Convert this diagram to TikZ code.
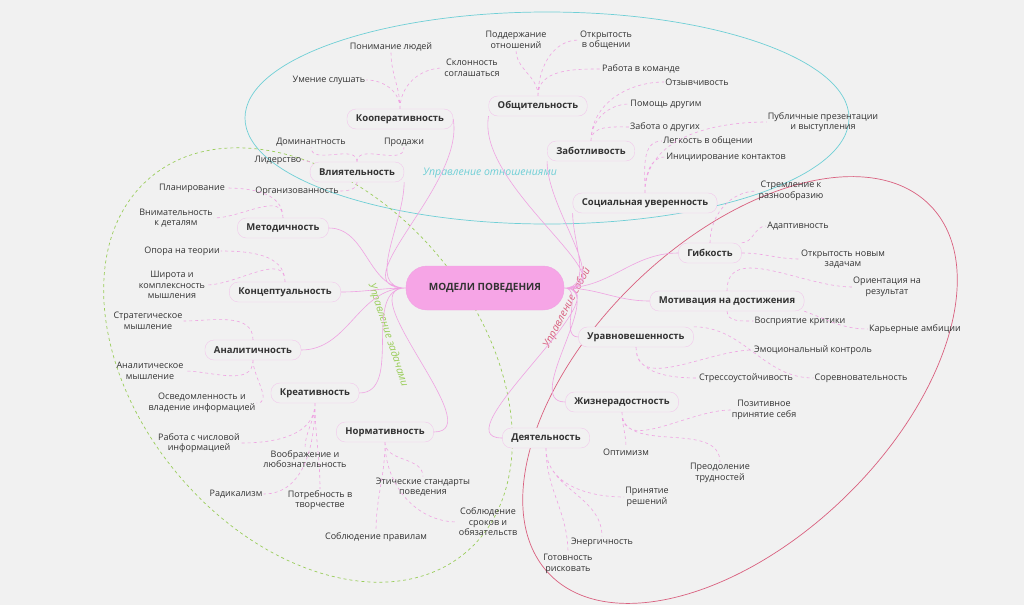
\documentclass[tikz,border=0pt]{standalone}
\usepackage{fontspec}
\setmainfont{Open Sans}
\usetikzlibrary{positioning}
\definecolor{bg}{HTML}{F1F1F1}
\definecolor{pk}{HTML}{EFA3E2}
\definecolor{pkfill}{HTML}{F6A5E6}
\definecolor{catline}{HTML}{F2C8EC}
\definecolor{cy}{HTML}{6FCFD6}
\definecolor{gr}{HTML}{9ACD5A}
\definecolor{rd}{HTML}{D9607F}
\definecolor{txt}{HTML}{333333}

\begin{document}
\begin{tikzpicture}[x=1pt,y=-1pt,
    root/.style={draw=pk,fill=pkfill,rounded corners=21pt,minimum width=158pt,minimum height=44pt,font=\fontsize{10}{12}\selectfont\bfseries,text=txt},
    cat/.style={draw=catline,fill=bg,rounded corners=9pt,minimum height=20pt,inner xsep=9pt,font=\fontsize{9.5}{11}\selectfont\bfseries,text=txt},
    leaf/.style={align=center,inner sep=1pt,font=\fontsize{9}{10.5}\selectfont,text=txt},
    sub/.style={draw=pk,line width=0.6pt},
    lf/.style={draw=pk,dashed,line width=0.6pt},
    grp/.style={font=\fontsize{10.5}{12}\selectfont\itshape}]
  \fill[bg] (0,0) rectangle (1024,605);
  \useasboundingbox (0,0) rectangle (1024,605);

  % groups
  \draw[cy,line width=0.7pt] (547,118) ellipse [x radius=302,y radius=106];
  \draw[gr,dashed,line width=0.7pt] (308,365) ellipse [x radius=245,y radius=170,rotate=-50];
  \draw[rd,line width=0.7pt] (740,390) ellipse [x radius=265,y radius=150,rotate=44];
  \node[grp,text=cy] (g1) at (490,173) {Управление отношениями};
  \node[grp,text=gr,rotate=-72] (g2) at (388,335) {Управление задачами};
  \node[grp,text=rd,rotate=62] (g3) at (567,308) {Управление собой};

  % root and categories
  \node[root] (root) at (485,288) {МОДЕЛИ ПОВЕДЕНИЯ};
  \node[cat] (coop) at (400,119) {Кооперативность};
  \node[cat] (infl) at (357,172) {Влиятельность};
  \node[cat] (meth) at (283,228) {Методичность};
  \node[cat] (conc) at (285,292) {Концептуальность};
  \node[cat] (anal) at (253,350) {Аналитичность};
  \node[cat] (crea) at (315,393) {Креативность};
  \node[cat] (norm) at (385,432) {Нормативность};
  \node[cat] (comm) at (538,106) {Общительность};
  \node[cat] (care) at (591,151) {Заботливость};
  \node[cat] (soc) at (645,203) {Социальная уверенность};
  \node[cat] (flex) at (710,253) {Гибкость};
  \node[cat] (moti) at (727,301) {Мотивация на достижения};
  \node[cat] (bal) at (636,337) {Уравновешенность};
  \node[cat] (joy) at (622,402) {Жизнерадостность};
  \node[cat] (act) at (546,438) {Деятельность};

  % leaves
  \node[leaf] (l1) at (391,47) {Понимание людей};
  \node[leaf] (l2) at (472,68) {Склонность\\соглашаться};
  \node[leaf] (l3) at (329,80) {Умение слушать};
  \node[leaf] (l4) at (311,142) {Доминантность};
  \node[leaf] (l5) at (404,142) {Продажи};
  \node[leaf] (l6) at (278,160) {Лидерство};
  \node[leaf] (l7) at (297,191) {Организованность};
  \node[leaf] (l8) at (192,188) {Планирование};
  \node[leaf] (l9) at (176,218) {Внимательность\\к деталям};
  \node[leaf] (l10) at (182,251) {Опора на теории};
  \node[leaf] (l11) at (172,285) {Широта и\\комплексность\\мышления};
  \node[leaf] (l12) at (148,321) {Стратегическое\\мышление};
  \node[leaf] (l13) at (150,371) {Аналитическое\\мышление};
  \node[leaf] (l14) at (202,403) {Осведомленность и\\владение информацией};
  \node[leaf] (l15) at (199,443) {Работа с числовой\\информацией};
  \node[leaf] (l16) at (305,459) {Воображение и\\любознательность};
  \node[leaf] (l17) at (236,494) {Радикализм};
  \node[leaf] (l18) at (320,500) {Потребность в\\творчестве};
  \node[leaf] (l19) at (376,537) {Соблюдение правилам};
  \node[leaf] (l20) at (423,487) {Этические стандарты\\поведения};
  \node[leaf] (l21) at (488,522) {Соблюдение\\сроков и\\обязательств};
  \node[leaf] (l22) at (516,40) {Поддержание\\отношений};
  \node[leaf] (l23) at (606,40) {Открытость\\в общении};
  \node[leaf] (l24) at (641,69) {Работа в команде};
  \node[leaf] (l25) at (697,82) {Отзывчивость};
  \node[leaf] (l26) at (666,104) {Помощь другим};
  \node[leaf] (l27) at (665,127) {Забота о других};
  \node[leaf] (l28) at (823,122) {Публичные презентации\\и выступления};
  \node[leaf] (l29) at (708,141) {Легкость в общении};
  \node[leaf] (l30) at (726,157) {Инициирование контактов};
  \node[leaf] (l31) at (791,191) {Стремление к\\разнообразию};
  \node[leaf] (l32) at (798,226) {Адаптивность};
  \node[leaf] (l33) at (843,259) {Открытость новым\\задачам};
  \node[leaf] (l34) at (887,287) {Ориентация на\\результат};
  \node[leaf] (l35) at (800,321) {Восприятие критики};
  \node[leaf] (l36) at (915,329) {Карьерные амбиции};
  \node[leaf] (l37) at (813,350) {Эмоциональный контроль};
  \node[leaf] (l38) at (746,378) {Стрессоустойчивость};
  \node[leaf] (l39) at (861,378) {Соревновательность};
  \node[leaf] (l40) at (764,410) {Позитивное\\принятие себя};
  \node[leaf] (l41) at (626,452) {Оптимизм};
  \node[leaf] (l42) at (720,473) {Преодоление\\трудностей};
  \node[leaf] (l43) at (647,497) {Принятие\\решений};
  \node[leaf] (l44) at (602,542) {Энергичность};
  \node[leaf] (l45) at (568,564) {Готовность\\рисковать};

  % root to categories
  \path[sub]
    (root.west) to[out=180,in=-80] (coop.east)
    (root.west) to[out=180,in=-90] (infl.south east)
    (root.west) to[out=180,in=0] (meth.east)
    (root.west) to[out=180,in=0] (conc.east)
    (root.west) to[out=180,in=0] (anal.east)
    (root.west) to[out=180,in=0] (crea.east)
    (root.west) to[out=180,in=0] (norm.east)
    (root.east) to[out=0,in=-100] (comm.south west)
    (root.east) to[out=0,in=-90] (care.south west)
    (root.east) to[out=0,in=-90] (soc.south west)
    (root.east) to[out=0,in=180] (flex.west)
    (root.east) to[out=0,in=180] (moti.west)
    (root.east) to[out=0,in=180] (bal.west)
    (root.east) to[out=0,in=180] (joy.west)
    (root.east) to[out=0,in=180] (act.west);

  % categories to leaves
  \path[lf]
    (coop.north) to[out=90,in=-90] (l1.south)
    (coop.north) to[out=90,in=180] (l2.west)
    (coop.north) to[out=90,in=0] (l3.east)
    (infl.north) to[out=90,in=-90] (l4.south)
    (infl.north) to[out=90,in=-90] (l5.south)
    (infl.north west) to[out=180,in=0] (l6.east)
    (infl.south) to[out=-90,in=0] (l7.east)
    (meth.north) to[out=90,in=0] (l8.east)
    (meth.north) to[out=90,in=0] (l9.east)
    (conc.north) to[out=90,in=0] (l10.east)
    (conc.north) to[out=90,in=0] (l11.east)
    (anal.north) to[out=90,in=0] (l12.east)
    (anal.south) to[out=-90,in=0] (l13.east)
    (anal.south) to[out=-90,in=0] (l14.east)
    (crea.south) to[out=-90,in=0] (l15.east)
    (crea.south) to[out=-90,in=90] (l16.north)
    (crea.south) to[out=-90,in=0] (l17.east)
    (crea.south) to[out=-90,in=90] (l18.north)
    (norm.south) to[out=-90,in=90] (l19.north)
    (norm.south) to[out=-90,in=90] (l20.north)
    (norm.south) to[out=-90,in=180] (l21.west)
    (comm.north) to[out=90,in=-90] (l22.south)
    (comm.north) to[out=90,in=180] (l23.west)
    (comm.north) to[out=90,in=180] (l24.west)
    (care.north) to[out=90,in=180] (l25.west)
    (care.north) to[out=90,in=180] (l26.west)
    (care.north) to[out=90,in=180] (l27.west)
    (soc.north) to[out=90,in=180] (l28.west)
    (soc.north) to[out=90,in=180] (l29.west)
    (soc.north) to[out=90,in=180] (l30.west)
    (flex.north) to[out=90,in=180] (l31.west)
    (flex.north east) to[out=0,in=180] (l32.west)
    (flex.east) to[out=0,in=180] (l33.west)
    (moti.north) to[out=90,in=180] (l34.west)
    (moti.south) to[out=-90,in=180] (l35.west)
    (moti.south east) to[out=-20,in=180] (l36.west)
    (bal.south) to[out=-90,in=180] (l37.west)
    (bal.south) to[out=-90,in=180] (l38.west)
    (bal.north east) to[out=0,in=180] (l39.west)
    (joy.south) to[out=-90,in=180] (l40.west)
    (joy.south) to[out=-90,in=90] (l41.north)
    (joy.south) to[out=-90,in=90] (l42.north)
    (act.south) to[out=-90,in=180] (l43.west)
    (act.south) to[out=-90,in=90] (l44.north)
    (act.south) to[out=-90,in=90] (l45.north);
\end{tikzpicture}
\end{document}
